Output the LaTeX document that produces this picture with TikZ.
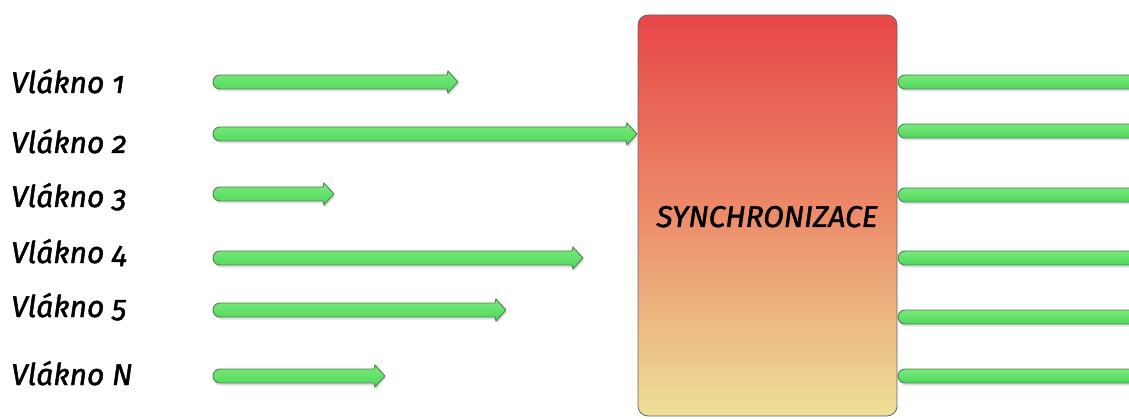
\documentclass[tikz,border=0pt]{standalone}
\usepackage{fontspec}
\setmainfont{Fira Sans}[Numbers=OldStyle, RawFeature=+onum, ItalicFeatures={FakeBold=1.6}]
\usetikzlibrary{shadows}

\definecolor{barhi}{RGB}{122,234,122}
\definecolor{barlo}{RGB}{78,214,92}
\definecolor{barline}{RGB}{82,128,86}
\definecolor{synctop}{RGB}{230,70,70}
\definecolor{syncmid}{RGB}{236,140,106}
\definecolor{syncbot}{RGB}{237,224,152}

\tikzset{
  bar/.style={draw=barline, line width=0.9pt, top color=barhi, bottom color=barlo,
    drop shadow={opacity=0.25, shadow xshift=1pt, shadow yshift=-2.5pt}},
  threadlabel/.style={anchor=base west, inner sep=0pt, font=\fontsize{30}{36}\selectfont\itshape},
  syncbox/.style={draw=gray!80!black, line width=0.8pt, rounded corners=10pt,
    top color=synctop, bottom color=syncbot, middle color=syncmid,
    minimum width=259pt, minimum height=401pt, inner sep=0pt},
}

\begin{document}
\begin{tikzpicture}[x=1pt, y=1pt]
    \useasboundingbox (0,0) rectangle (1129,418);

    % synchronisation block
    \node[syncbox] (sync) at (767.5,202.5) {};
    \node[anchor=base, inner sep=0pt, font=\fontsize{30}{36}\selectfont\itshape] (synclabel) at (767,191) {SYNCHRONIZACE};

    % threads coming in
    \foreach \i/\y/\x/\b in {1/336/458/325, 2/284/637/265, 3/224/334/211, 4/160/583/155, 5/108/506/101, N/42/385/33} {
        \node[threadlabel] (l\i) at (11,\b) {Vlákno \i};
        \coordinate (s\i) at (220,\y);
        \coordinate (e\i) at (\x,\y);
        \draw[bar] ([yshift=7pt]s\i) -- ([xshift=-11pt,yshift=7pt]e\i) -- ([xshift=-10pt,yshift=11pt]e\i)
            -- (e\i) -- ([xshift=-10pt,yshift=-11pt]e\i) -- ([xshift=-11pt,yshift=-7pt]e\i)
            -- ([yshift=-7pt]s\i) arc[start angle=270, end angle=90, radius=7pt] -- cycle;
    }

    % threads going out
    \foreach \j/\y in {1/336, 2/287, 3/223, 4/160, 5/101, 6/42} {
        \coordinate (o\j) at (905,\y);
        \coordinate (r\j) at (1135,\y);
        \draw[bar] ([yshift=7pt]o\j) -- ([yshift=7pt]r\j) -- ([yshift=-7pt]r\j)
            -- ([yshift=-7pt]o\j) arc[start angle=270, end angle=90, radius=7pt] -- cycle;
    }
\end{tikzpicture}
\end{document}
